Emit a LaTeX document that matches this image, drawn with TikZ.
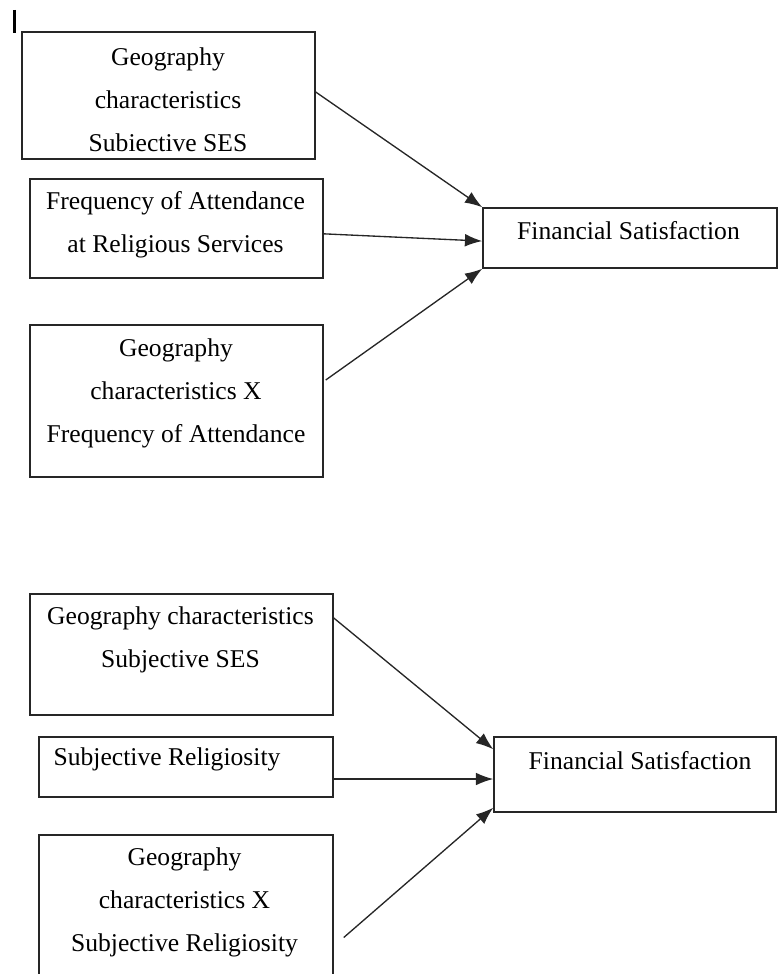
\documentclass[tikz,border=0pt]{standalone}
\usepackage{fontspec}
\setmainfont{Liberation Serif}
\usetikzlibrary{arrows.meta}
\tikzset{
  pbox/.style 2 args={draw=black!85, line width=1.1pt, rectangle, inner sep=0pt,
    minimum width=#1*0.75pt, minimum height=#2*0.75pt},
  ptext/.style={align=center, inner sep=0pt, font=\fontsize{19.2}{32.25}\selectfont},
  parrow/.style={line width=1pt, draw=black!85, -{Latex[length=13pt,width=9.5pt]}}
}
\begin{document}
\begin{tikzpicture}[x=0.75pt,y=-0.75pt]
\useasboundingbox (0,0) rectangle (778,974);
\clip (0,0) rectangle (778,974);
\draw[line width=2.4pt] (14.5,10) -- (14.5,33);
% first model
\node[pbox={293}{127}] (a1) at (168.5,95.5) {};
\node[pbox={293}{99}] (a2) at (176.5,228.5) {};
\node[pbox={293}{152}] (a3) at (176.5,401) {};
\node[pbox={294}{60}] (f1) at (630,238) {};
\node[ptext] (a1t) at (168,100) {Geography\\characteristics\\Subiective SES};
\node[ptext] (a2t) at (175.5,224.5) {Frequency of Attendance\\at Religious Services};
\node[ptext] (a3t) at (176,393.5) {Geography\\characteristics X\\Frequency of Attendance};
\node[ptext] (f1t) at (628.5,231) {Financial Satisfaction};
\draw[parrow] ([yshift=2.6pt]a1.east) -- (f1.north west);
\draw[parrow] ([yshift=-4pt]a2.east) -- ([yshift=-2.3pt]f1.west);
\draw[parrow] ([xshift=1.5pt,yshift=15.75pt]a3.east) -- (f1.south west);
% second model
\node[pbox={303}{121}] (b1) at (181.5,654.5) {};
\node[pbox={294}{60}] (b2) at (186,767) {};
\node[pbox={294}{165}] (b3) at (186,917.5) {};
\node[pbox={282}{75}] (f2) at (635,774.5) {};
\node[ptext] (b1t) at (180.5,639.5) {Geography characteristics\\Subjective SES};
\node[ptext] (b2t) at (167,759) {Subjective Religiosity};
\node[ptext] (b3t) at (184.5,902.5) {Geography\\characteristics X\\Subjective Religiosity};
\node[ptext] (f2t) at (640,761) {Financial Satisfaction};
\draw[parrow] ([yshift=27.4pt]b1.east) -- ([yshift=-9.75pt]f2.north west);
\draw[parrow] ([yshift=-9pt]b2.east) -- ([yshift=-9pt]b2.east -| f2.west);
\draw[parrow] ([xshift=7.5pt,yshift=-15pt]b3.east) -- ([yshift=3.75pt]f2.south west);
\end{tikzpicture}
\end{document}
